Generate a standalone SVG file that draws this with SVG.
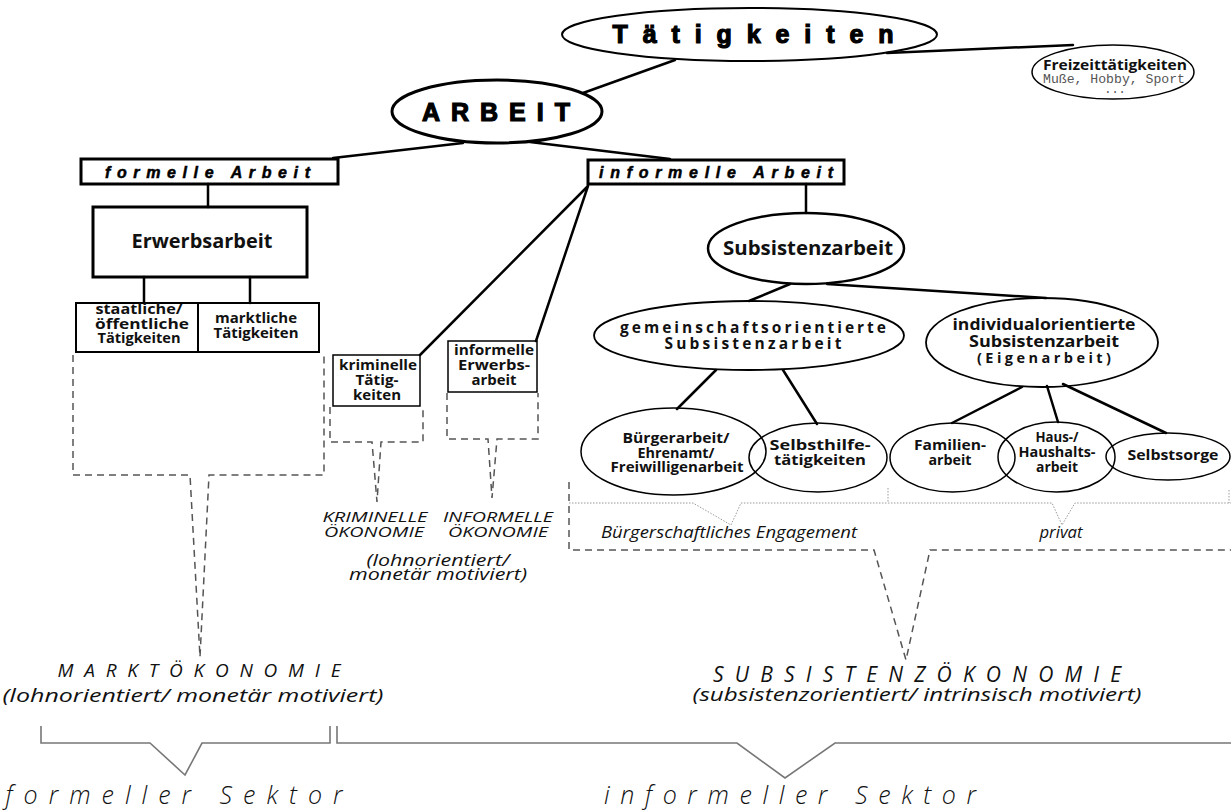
<svg xmlns="http://www.w3.org/2000/svg" width="1231" height="812" viewBox="0 0 1231 812">
<style>
.c{stroke:#000;stroke-width:2.5;fill:none;stroke-linecap:round}
.e{stroke:#000;fill:none}
.dash{stroke:#555;stroke-width:1.5;fill:none;stroke-dasharray:7 5}
.dot{stroke:#999;stroke-width:1;fill:none;stroke-dasharray:1.5 1.5}
.br{stroke:#777;stroke-width:1.6;fill:none}
.b{font-family:"Open Sans","DejaVu Sans",sans-serif;font-weight:bold;text-anchor:middle;fill:#111}
.i{font-family:"Open Sans","DejaVu Sans",sans-serif;font-style:italic;text-anchor:middle;fill:#111}
.blk{font-family:"Liberation Sans",Arial,sans-serif;font-weight:bold;text-anchor:middle;fill:#000;stroke:#000}
.m{font-family:"Liberation Mono","Courier New",monospace;text-anchor:middle;fill:#555}
</style>
<rect width="1231" height="812" fill="#fff"/>
<g id="connectors">
<path class="c" d="M887,53 L1073,45"/>
<path class="c" d="M675,60 L583,93"/>
<path class="c" d="M463,143 L333,158"/>
<path class="c" d="M530,142 L670,159"/>
<path class="c" d="M208,184 V207"/>
<path class="c" d="M144,277 V303 M250,277 V303"/>
<path class="c" d="M588,186 L420,355 M588,186 L536,341"/>
<path class="c" d="M806,184 V213"/>
<path class="c" d="M790,284 L749,301 M827,284 L1046,298"/>
<path class="c" d="M716,370 L677,409 M783,370 L817,424"/>
<path class="c" d="M1022,387 L952,423 M1047,386 L1058,422 M1063,384 L1166,433"/>
</g>
<g id="brackets">
<path class="dash" d="M73,355 V475 H190 L200,657 L209,475 H324 V355"/>
<path class="dash" d="M330,407 V442 H372 L377,502 L381,442 H423 V407"/>
<path class="dash" d="M447,393 V439 H488 L492,498 L497,439 H538 V393"/>
<path class="dash" d="M569,482 V550 H874 L906,660 L930,550 H1231"/>
<path class="dot" d="M569,503 H693 L731,525 L741,503 H1052 L1062,525 L1075,503 H1231"/>
<path class="dot" d="M888,488 V503 M1229,490 V503"/>
<path class="br" d="M41,726 V743 H150 L185,775 L202,743 H330 V726"/>
<path class="br" d="M337,726 V743 H737 L785,778 L835,743 H1231"/>
</g>
<g id="taetigkeiten">
<ellipse class="e" cx="749.5" cy="34.5" rx="187.5" ry="26.5" stroke-width="2"/>
<text class="blk" x="753" y="43" font-size="25" stroke-width="1.2" textLength="281" lengthAdjust="spacing">Tätigkeiten</text>
</g>
<g id="freizeit">
<ellipse class="e" cx="1113" cy="72" rx="81" ry="27" stroke-width="1.5"/>
<text class="b" x="1115" y="70" font-size="14" textLength="144" lengthAdjust="spacingAndGlyphs">Freizeittätigkeiten</text>
<text class="m" x="1114" y="83" font-size="12.5" textLength="142" lengthAdjust="spacingAndGlyphs">Muße, Hobby, Sport</text>
<text class="m" x="1115" y="93" font-size="12">...</text>
</g>
<g id="arbeit">
<ellipse class="e" cx="497" cy="111.5" rx="105" ry="31.5" stroke-width="3"/>
<text class="blk" x="496" y="121" font-size="25" stroke-width="1.2" textLength="148" lengthAdjust="spacing">ARBEIT</text>
</g>
<g id="formelle">
<rect class="e" x="81" y="159" width="257" height="25" stroke-width="3"/>
<text class="blk" x="207.5" y="178" font-size="16" font-style="italic" stroke-width="0.5" textLength="205" lengthAdjust="spacing">formelle Arbeit</text>
</g>
<g id="informelle">
<rect class="e" x="588" y="160" width="256" height="24" stroke-width="3"/>
<text class="blk" x="716" y="178" font-size="16" font-style="italic" stroke-width="0.5" textLength="234" lengthAdjust="spacing">informelle Arbeit</text>
</g>
<g id="erwerbsarbeit">
<rect class="e" x="93" y="207" width="214" height="70" stroke-width="3"/>
<text class="b" x="202" y="248" font-size="20" textLength="141" lengthAdjust="spacingAndGlyphs">Erwerbsarbeit</text>
</g>
<g id="staatliche">
<rect class="e" x="76" y="303" width="122" height="49" stroke-width="2"/>
<text class="b" x="139" y="314" font-size="14.5" textLength="87" lengthAdjust="spacingAndGlyphs">staatliche/</text>
<text class="b" x="142" y="328.5" font-size="14.5" textLength="94" lengthAdjust="spacingAndGlyphs">öffentliche</text>
<text class="b" x="139" y="343" font-size="14.5" textLength="83" lengthAdjust="spacingAndGlyphs">Tätigkeiten</text>
</g>
<g id="marktliche">
<rect class="e" x="198" y="303" width="121" height="49" stroke-width="2"/>
<text class="b" x="256" y="323" font-size="14.5" textLength="82" lengthAdjust="spacingAndGlyphs">marktliche</text>
<text class="b" x="256" y="337.5" font-size="14.5" textLength="85" lengthAdjust="spacingAndGlyphs">Tätigkeiten</text>
</g>
<g id="kriminelle">
<rect class="e" x="333" y="355" width="87" height="51" stroke-width="1.5"/>
<text class="b" x="378" y="370" font-size="14.5" textLength="78" lengthAdjust="spacingAndGlyphs">kriminelle</text>
<text class="b" x="377" y="385" font-size="14.5" textLength="43" lengthAdjust="spacingAndGlyphs">Tätig-</text>
<text class="b" x="377" y="400" font-size="14.5" textLength="48" lengthAdjust="spacingAndGlyphs">keiten</text>
</g>
<g id="informelle-erwerbsarbeit">
<rect class="e" x="448" y="341" width="89" height="51" stroke-width="1.5"/>
<text class="b" x="494" y="355" font-size="14.5" textLength="80" lengthAdjust="spacingAndGlyphs">informelle</text>
<text class="b" x="494" y="370" font-size="14.5" textLength="72" lengthAdjust="spacingAndGlyphs">Erwerbs-</text>
<text class="b" x="494" y="385" font-size="14.5" textLength="45" lengthAdjust="spacingAndGlyphs">arbeit</text>
</g>
<g id="subsistenzarbeit">
<ellipse class="e" cx="806" cy="248.5" rx="98" ry="35.5" stroke-width="2.5"/>
<text class="b" x="808" y="255" font-size="20" textLength="170" lengthAdjust="spacingAndGlyphs">Subsistenzarbeit</text>
</g>
<g id="gemeinschaft">
<ellipse class="e" cx="749" cy="335.5" rx="155" ry="34.5" stroke-width="1.8"/>
<text class="b" x="753" y="333" font-size="15.5" textLength="266" lengthAdjust="spacing">gemeinschaftsorientierte</text>
<text class="b" x="753" y="349" font-size="15.5" textLength="177" lengthAdjust="spacing">Subsistenzarbeit</text>
</g>
<g id="individual">
<ellipse class="e" cx="1042" cy="342.5" rx="116" ry="44.5" stroke-width="1.8"/>
<text class="b" x="1044" y="330" font-size="15.5" textLength="183" lengthAdjust="spacingAndGlyphs">individualorientierte</text>
<text class="b" x="1044" y="347" font-size="15.5" textLength="150" lengthAdjust="spacingAndGlyphs">Subsistenzarbeit</text>
<text class="b" x="1044" y="363" font-size="14.5" textLength="134" lengthAdjust="spacing">(Eigenarbeit)</text>
</g>
<g id="buergerarbeit">
<ellipse class="e" cx="673.5" cy="451.5" rx="92.5" ry="43.5" stroke-width="1.5"/>
<text class="b" x="676" y="443" font-size="14.5" textLength="107" lengthAdjust="spacingAndGlyphs">Bürgerarbeit/</text>
<text class="b" x="676" y="457.5" font-size="14.5" textLength="77" lengthAdjust="spacingAndGlyphs">Ehrenamt/</text>
<text class="b" x="677" y="472" font-size="14.5" textLength="133" lengthAdjust="spacingAndGlyphs">Freiwilligenarbeit</text>
</g>
<g id="selbsthilfe">
<ellipse class="e" cx="818" cy="457.5" rx="69" ry="34.5" stroke-width="1.5"/>
<text class="b" x="820" y="450" font-size="14.5" textLength="101" lengthAdjust="spacingAndGlyphs">Selbsthilfe-</text>
<text class="b" x="820" y="465" font-size="14.5" textLength="92" lengthAdjust="spacingAndGlyphs">tätigkeiten</text>
</g>
<g id="familien">
<ellipse class="e" cx="952.5" cy="457.5" rx="62.5" ry="34.5" stroke-width="1.5"/>
<text class="b" x="950" y="450" font-size="14.5" textLength="72" lengthAdjust="spacingAndGlyphs">Familien-</text>
<text class="b" x="950" y="465" font-size="14.5" textLength="43" lengthAdjust="spacingAndGlyphs">arbeit</text>
</g>
<g id="haushalt">
<ellipse class="e" cx="1056.5" cy="457" rx="58.5" ry="35" stroke-width="1.5"/>
<text class="b" x="1057" y="442" font-size="14.5" textLength="43" lengthAdjust="spacingAndGlyphs">Haus-/</text>
<text class="b" x="1057" y="457" font-size="14.5" textLength="77" lengthAdjust="spacingAndGlyphs">Haushalts-</text>
<text class="b" x="1057" y="472" font-size="14.5" textLength="42" lengthAdjust="spacingAndGlyphs">arbeit</text>
</g>
<g id="selbstsorge">
<ellipse class="e" cx="1168" cy="456.5" rx="62" ry="23.5" stroke-width="1.5"/>
<text class="b" x="1173" y="460" font-size="15" textLength="91" lengthAdjust="spacingAndGlyphs">Selbstsorge</text>
</g>
<g id="labels">
<text class="i" x="729" y="538" font-size="15.5" textLength="256" lengthAdjust="spacingAndGlyphs">Bürgerschaftliches Engagement</text>
<text class="i" x="1061" y="538" font-size="15.5" textLength="43" lengthAdjust="spacingAndGlyphs">privat</text>
<text class="i" x="375" y="522" font-size="15" textLength="105" lengthAdjust="spacingAndGlyphs">KRIMINELLE</text>
<text class="i" x="374" y="537" font-size="15" textLength="100" lengthAdjust="spacingAndGlyphs">ÖKONOMIE</text>
<text class="i" x="498" y="522" font-size="15" textLength="110" lengthAdjust="spacingAndGlyphs">INFORMELLE</text>
<text class="i" x="498" y="537" font-size="15" textLength="100" lengthAdjust="spacingAndGlyphs">ÖKONOMIE</text>
<text class="i" x="438" y="566" font-size="16.5" textLength="143" lengthAdjust="spacingAndGlyphs">(lohnorientiert/</text>
<text class="i" x="438" y="580" font-size="16.5" textLength="178" lengthAdjust="spacingAndGlyphs">monetär motiviert)</text>
<text class="i" x="199" y="677" font-size="19" textLength="283" lengthAdjust="spacing">MARKTÖKONOMIE</text>
<text class="i" x="193" y="702" font-size="19" textLength="381" lengthAdjust="spacingAndGlyphs">(lohnorientiert/ monetär motiviert)</text>
<text class="i" x="917" y="682" font-size="21" textLength="408" lengthAdjust="spacing">SUBSISTENZÖKONOMIE</text>
<text class="i" x="917" y="701" font-size="19" textLength="449" lengthAdjust="spacingAndGlyphs">(subsistenzorientiert/ intrinsisch motiviert)</text>
<text class="i" x="174" y="804" font-size="25" font-weight="300" textLength="337" lengthAdjust="spacing">formeller Sektor</text>
<text class="i" x="790" y="804" font-size="25" font-weight="300" textLength="372" lengthAdjust="spacing">informeller Sektor</text>
</g>
</svg>
